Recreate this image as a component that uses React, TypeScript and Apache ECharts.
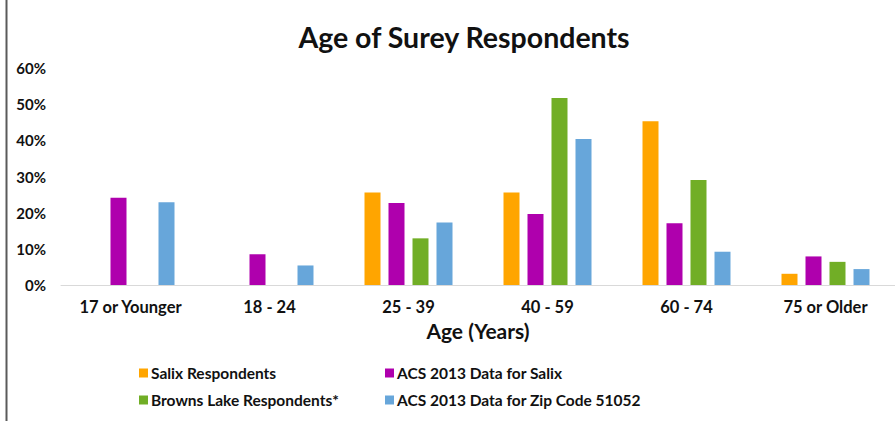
import React, { useEffect, useRef } from "react";
import * as echarts from "echarts";

const categories = ["17 or Younger", "18 - 24", "25 - 39", "40 - 59", "60 - 74", "75 or Older"];
const seriesNames = [
  "Salix Respondents",
  "ACS 2013 Data for Salix",
  "Browns Lake Respondents*",
  "ACS 2013 Data for Zip Code 51052",
];
const salixRespondents = [null, null, 25.6, 25.6, 45.3, 3.1];
const acsSalix = [24.1, 8.5, 22.7, 19.6, 17.1, 7.9];
const brownsLake = [null, null, 12.9, 51.7, 29.0, 6.4];
const acsZip = [22.9, 5.4, 17.3, 40.4, 9.2, 4.4];
const colors = ["#FFA500", "#AF00AD", "#71AE26", "#67A6DA"];

const FONT = "Lato, sans-serif";

export default function App() {
  const ref = useRef<HTMLDivElement>(null);
  useEffect(() => {
    if (!ref.current) return;
    const chart = echarts.init(ref.current, null, { renderer: "svg" });
    const data = [salixRespondents, acsSalix, brownsLake, acsZip];
    const legendText = { fontFamily: FONT, fontWeight: "bold", fontSize: 15.5, color: "#111", lineHeight: 18 };
    chart.setOption({
      animation: false,
      backgroundColor: "#fff",
      title: {
        text: "Age of Surey Respondents",
        left: 459,
        textAlign: "center",
        top: 17,
        textStyle: { fontFamily: FONT, fontWeight: "bold", fontSize: 28.5, color: "#111" },
      },
      graphic: [
        {
          type: "line",
          shape: { x1: 6.5, y1: 0, x2: 6.5, y2: 421 },
          style: { stroke: "#5a5a5a", lineWidth: 2 },
        },
      ],
      legend: [
        {
          data: [seriesNames[0], seriesNames[2]],
          orient: "vertical",
          left: 134,
          top: 359,
          itemWidth: 9,
          itemHeight: 9,
          itemGap: 9,
          icon: "rect",
          textStyle: { ...legendText, padding: [0, 0, 0, -2] },
        },
        {
          data: [seriesNames[1], seriesNames[3]],
          orient: "vertical",
          left: 380,
          top: 359,
          itemWidth: 9,
          itemHeight: 9,
          itemGap: 9,
          icon: "rect",
          textStyle: { ...legendText, padding: [0, 0, 0, -2] },
        },
      ],
      grid: { left: 61, right: -14, top: 68, bottom: 136, containLabel: false },
      xAxis: {
        type: "category",
        data: categories,
        axisLine: { lineStyle: { color: "#d9d9d9", width: 1 } },
        axisTick: { show: false },
        axisLabel: {
          interval: 0,
          fontFamily: FONT,
          fontWeight: "bold",
          fontSize: 16.5,
          color: "#111",
          margin: 13,
        },
        name: "Age (Years)",
        nameLocation: "middle",
        nameGap: 35,
        nameTextStyle: { fontFamily: FONT, fontWeight: "bold", fontSize: 21, color: "#111" },
      },
      yAxis: {
        type: "value",
        min: 0,
        max: 60,
        interval: 10,
        splitLine: { show: false },
        axisLine: { show: false },
        axisTick: { show: false },
        axisLabel: {
          formatter: "{value}%",
          fontFamily: FONT,
          fontWeight: "bold",
          fontSize: 15,
          color: "#111",
          margin: 15,
        },
      },
      series: seriesNames.map((name, i) => ({
        name,
        type: "bar",
        data: data[i],
        barWidth: 16,
        barGap: "50%",
        itemStyle: { color: colors[i] },
      })),
    });
    return () => chart.dispose();
  }, []);
  return (
    <div
      ref={ref}
      style={{ position: "absolute", left: 0, top: 0, width: 895, height: 421 }}
    />
  );
}
